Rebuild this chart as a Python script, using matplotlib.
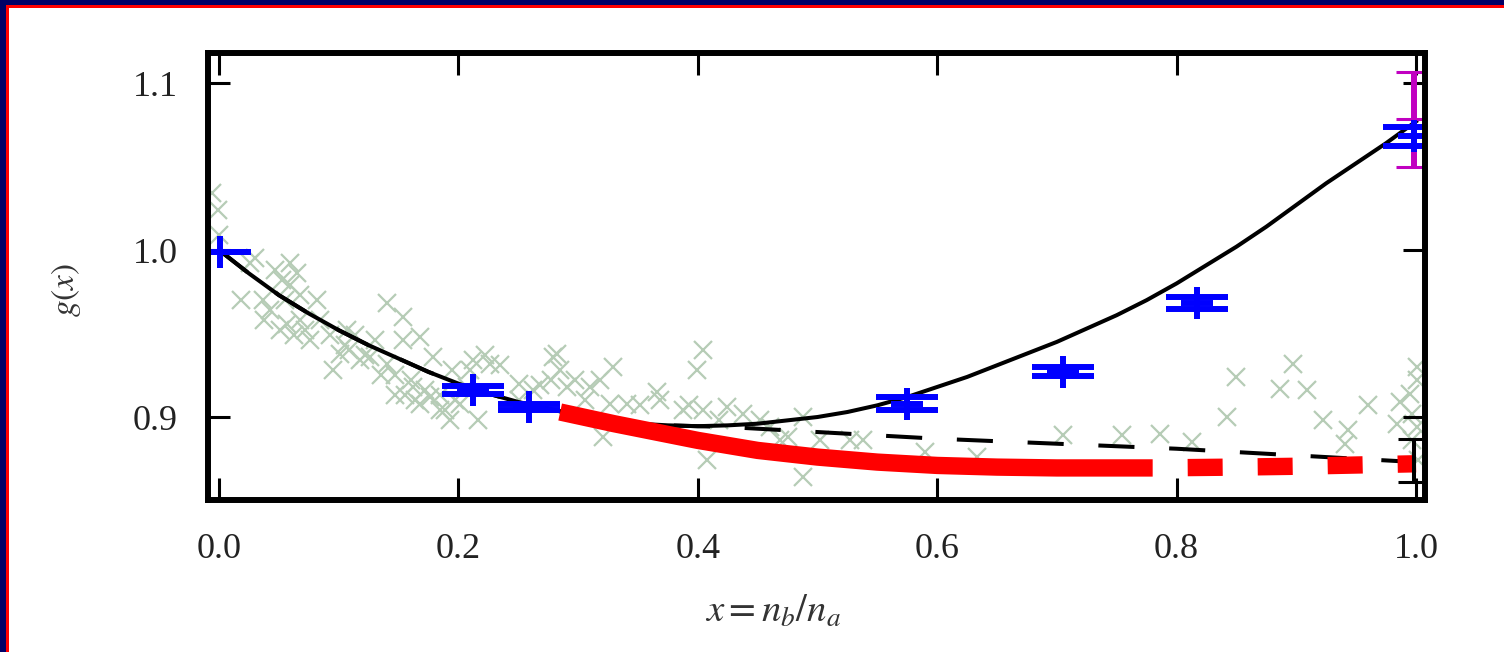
import matplotlib
matplotlib.use("Agg")
import matplotlib.pyplot as plt
from matplotlib.patches import Rectangle

plt.rcParams['font.family'] = ['Liberation Serif', 'DejaVu Serif']
plt.rcParams['mathtext.fontset'] = 'stix'
plt.rcParams['lines.scale_dashes'] = False

# ---------------- data ----------------
# background scatter (grey crosses)
scatter_x = [-0.006, -0.001, 0.000, 0.026, 0.059, 0.065, 0.053, 0.037, 0.082, 0.057,
             0.051, 0.076, 0.101, 0.107, 0.118, 0.095, 0.140, 0.154, 0.140, 0.126,
             0.154, 0.168, 0.179, 0.162, 0.168, 0.176, 0.195, 0.212, 0.226, 0.207,
             0.201, 0.216, 0.251, 0.279, 0.285, 0.291, 0.310, 0.262, 0.282, 0.277,
             0.329, 0.327, 0.341, 0.321, 0.366, 0.404, 0.399, 0.388, 0.404, 0.424,
             0.438, 0.460, 0.475, 0.488, 0.408, 0.488, 0.527, 0.538, 0.633, 0.754,
             0.786, 0.813, 0.842, 0.850, 0.886, 0.897, 0.909, 0.922, 0.943, 0.941,
             0.960, 0.984, 0.987, 0.995, 1.001, 1.001, 0.997, 1.001, 0.997, 1.002,
             0.018, 0.038, 0.068, 0.084, 0.063, 0.109, 0.135, 0.147, 0.185, 0.193,
             0.705, 0.590,
             0.030, 0.047, 0.059, 0.068, 0.043, 0.055, 0.072, 0.093, 0.105, 0.114,
             0.122, 0.130, 0.147, 0.155, 0.164, 0.172, 0.185, 0.160, 0.189, 0.197,
             0.222, 0.235, 0.210, 0.268, 0.297, 0.306, 0.251, 0.352, 0.368, 0.393,
             0.418, 0.452, 0.469, 0.502, 0.318]
scatter_y = [1.034, 1.024, 1.009, 0.992, 0.992, 0.986, 0.982, 0.970, 0.970, 0.956,
             0.952, 0.946, 0.938, 0.952, 0.934, 0.928, 0.968, 0.960, 0.932, 0.936,
             0.946, 0.948, 0.936, 0.918, 0.908, 0.912, 0.928, 0.934, 0.932, 0.918,
             0.908, 0.898, 0.920, 0.936, 0.928, 0.918, 0.918, 0.916, 0.938, 0.922,
             0.930, 0.908, 0.908, 0.888, 0.915, 0.940, 0.928, 0.904, 0.904, 0.906,
             0.902, 0.894, 0.888, 0.900, 0.874, 0.864, 0.886, 0.886, 0.876, 0.889,
             0.890, 0.885, 0.900, 0.924, 0.917, 0.932, 0.916, 0.898, 0.892, 0.884,
             0.907, 0.896, 0.909, 0.914, 0.930, 0.922, 0.902, 0.894, 0.886, 0.874,
             0.970, 0.958, 0.958, 0.958, 0.949, 0.940, 0.925, 0.913, 0.904, 0.898,
             0.889, 0.879,
             0.995, 0.988, 0.979, 0.973, 0.964, 0.970, 0.952, 0.949, 0.943, 0.949,
             0.937, 0.946, 0.925, 0.913, 0.910, 0.916, 0.913, 0.922, 0.904, 0.910,
             0.937, 0.931, 0.928, 0.919, 0.922, 0.910, 0.910, 0.907, 0.910, 0.907,
             0.898, 0.898, 0.886, 0.886, 0.922]

# solid black fit curve
fit_x = [0.0, 0.025, 0.05, 0.075, 0.1, 0.125, 0.15, 0.175, 0.2, 0.225, 0.25,
         0.275, 0.3, 0.325, 0.35, 0.375, 0.4, 0.425, 0.45, 0.475, 0.5, 0.525,
         0.55, 0.575, 0.6, 0.625, 0.65, 0.675, 0.7, 0.725, 0.75, 0.775, 0.8,
         0.825, 0.85, 0.875, 0.9, 0.925, 0.95, 0.975, 1.0]
fit_y = [1.000, 0.986, 0.973, 0.962, 0.952, 0.943, 0.935, 0.927, 0.920, 0.914, 0.909,
         0.905, 0.901, 0.898, 0.896, 0.895, 0.8945, 0.895, 0.896, 0.898, 0.900, 0.903,
         0.907, 0.912, 0.918, 0.924, 0.931, 0.938, 0.945, 0.953, 0.961, 0.970, 0.980,
         0.991, 1.002, 1.014, 1.027, 1.040, 1.052, 1.064, 1.077]

# dashed black curve
dash_x = [0.0, 0.025, 0.05, 0.075, 0.1, 0.125, 0.15, 0.175, 0.2, 0.225, 0.25,
          0.275, 0.3, 0.325, 0.35, 0.375, 0.4, 0.425, 0.45, 0.5, 0.6, 0.7, 0.8, 0.9, 1.0]
dash_y = [1.000, 0.986, 0.973, 0.962, 0.952, 0.943, 0.935, 0.927, 0.920, 0.914, 0.909,
          0.905, 0.901, 0.898, 0.896, 0.895, 0.8945, 0.894, 0.893, 0.891, 0.887, 0.884,
          0.881, 0.877, 0.873]

# thick red curve (solid part, then dashed part)
red_x = [0.285, 0.33, 0.40, 0.45, 0.50, 0.55, 0.60, 0.65, 0.70, 0.78]
red_y = [0.903, 0.896, 0.886, 0.880, 0.876, 0.873, 0.871, 0.870, 0.8695, 0.8695]
red_dash_x = [0.78, 0.85, 0.90, 1.0]
red_dash_y = [0.8695, 0.870, 0.8705, 0.872]

# blue points with error bars
blue_x = [0.001, 0.212, 0.259, 0.575, 0.705, 0.817, 0.998]
blue_y = [0.999, 0.916, 0.906, 0.908, 0.927, 0.968, 1.068]
blue_err = [0.0, 0.0024, 0.0020, 0.0037, 0.0027, 0.0036, 0.0055]

# magenta point at x = 1
mag_x = [0.998]
mag_y = [1.0783]
mag_err = [0.0284]

# black end point at x = 1
end_x = [0.998]
end_y = [0.874]
end_err = [0.013]

xticks = [0.0, 0.2, 0.4, 0.6, 0.8, 1.0]
xticklabels = ['0.0', '0.2', '0.4', '0.6', '0.8', '1.0']
yticks = [0.9, 1.0, 1.1]
yticklabels = ['0.9', '1.0', '1.1']

# ---------------- figure ----------------
W, H, DPI = 1504, 652, 100
fig = plt.figure(figsize=(W / DPI, H / DPI), dpi=DPI)
fig.patch.set_facecolor('white')

# frame border (navy outer, red inner) on left and top
fig.patches.append(Rectangle((0, 0), 6 / W, 1, transform=fig.transFigure,
                             facecolor='#000066', edgecolor='none', zorder=10))
fig.patches.append(Rectangle((0, 1 - 5 / H), 1, 5 / H, transform=fig.transFigure,
                             facecolor='#000066', edgecolor='none', zorder=10))
fig.patches.append(Rectangle((6 / W, 0), 3 / W, 1 - 5 / H, transform=fig.transFigure,
                             facecolor='#ff0000', edgecolor='none', zorder=10))
fig.patches.append(Rectangle((6 / W, 1 - 8 / H), 1 - 6 / W, 3 / H, transform=fig.transFigure,
                             facecolor='#ff0000', edgecolor='none', zorder=10))

ax = fig.add_axes([208 / W, 1 - 500 / H, (1425 - 208) / W, (500 - 53) / H])

ax.plot(scatter_x, scatter_y, linestyle='none', marker='x', markersize=13,
        markeredgewidth=1.6, color='#b6ccb6', zorder=1, clip_on=True)

ax.plot(dash_x, dash_y, color='black', lw=2.9, linestyle=(0, (26, 25)),
        dash_capstyle='butt', zorder=2)
ax.plot(fit_x, fit_y, color='black', lw=2.9, zorder=3)

ax.plot(red_x, red_y, color='#ff0000', lw=12.5, solid_capstyle='butt', zorder=4)
ax.plot(red_dash_x, red_dash_y, color='#ff0000', lw=12.5, linestyle=(25.2, (25.2, 25.2)),
        dash_capstyle='butt', zorder=4)

ax.errorbar(end_x, end_y, yerr=end_err, fmt='none', ecolor='black', elinewidth=2.9,
            capsize=11.5, capthick=2.2, zorder=5)

ax.errorbar(mag_x, mag_y, yerr=mag_err, fmt='_', color='#c000c0', ecolor='#c000c0',
            markersize=25.5, markeredgewidth=2.2, elinewidth=4.3,
            capsize=12.7, capthick=2.2, zorder=6)

ax.errorbar(blue_x, blue_y, yerr=blue_err, fmt='+', color='#0000ff', ecolor='#0000ff',
            markersize=23, markeredgewidth=4.3, elinewidth=4.3,
            capsize=22, capthick=4.3, zorder=7)

ax.set_xlim(-0.0092, 1.0075)
ax.set_ylim(0.8503, 1.118)

ax.set_xticks(xticks)
ax.set_xticklabels(xticklabels)
ax.set_yticks(yticks)
ax.set_yticklabels(yticklabels)

ax.tick_params(axis='both', which='major', direction='in', top=True, right=True,
               length=16, width=2.2, labelsize=26, labelcolor='#222222', pad=22)
ax.tick_params(axis='x', pad=24)
for sp in ax.spines.values():
    sp.set_linewidth(4.3)
    sp.set_zorder(10)

fig.text(773 / W, 1 - 612 / H, r'$x = n_b/n_a$', ha='center', va='center',
         fontsize=28, color='#333333')
fig.text(66 / W, 1 - 290 / H, r'$g(x)$', ha='center', va='center', rotation=90,
         fontsize=24, color='#333333')

fig.savefig('out.png', dpi=DPI)
